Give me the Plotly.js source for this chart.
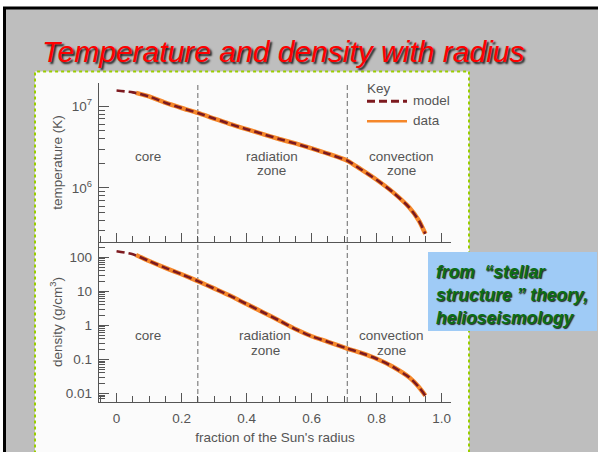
<!DOCTYPE html>
<html>
<head>
<meta charset="utf-8">
<script src="https://cdn.plot.ly/plotly-3.0.1.min.js"></script>
<style>html,body{margin:0;padding:0;background:#fff;}#chart{width:598px;height:452px;}</style>
</head>
<body>
<div id="chart"></div>
<script>
// ---- data ----
const radiusModel = [0, 0.05, 0.1, 0.15, 0.2, 0.25, 0.3, 0.35, 0.4, 0.45, 0.5, 0.55, 0.6, 0.65, 0.71, 0.75, 0.8, 0.85, 0.9, 0.93, 0.95];
const tempModel = [1.56e7, 1.48e7, 1.32e7, 1.107e7, 9.53e6, 8.28e6, 7.08e6, 6.05e6, 5.25e6, 4.57e6, 3.98e6, 3.51e6, 3.05e6, 2.63e6, 2.16e6, 1.71e6, 1.26e6, 8.9e5, 5.8e5, 4.0e5, 2.75e5];
const densityModel = [151, 123, 78, 49, 31.8, 20, 12.2, 7.4, 4.24, 2.44, 1.40, 0.78, 0.48, 0.33, 0.209, 0.158, 0.105, 0.061, 0.030, 0.0155, 0.0087];

const radiusData = [0.06, 0.1, 0.15, 0.2, 0.25, 0.3, 0.35, 0.4, 0.45, 0.5, 0.55, 0.6, 0.65, 0.71, 0.75, 0.8, 0.85, 0.9, 0.93, 0.95];
const tempData = [1.46e7, 1.32e7, 1.107e7, 9.53e6, 8.28e6, 7.08e6, 6.05e6, 5.25e6, 4.57e6, 3.98e6, 3.51e6, 3.05e6, 2.63e6, 2.16e6, 1.71e6, 1.26e6, 8.9e5, 5.8e5, 4.0e5, 2.75e5];
const densityData = [117, 78, 49, 31.8, 20, 12.2, 7.4, 4.24, 2.44, 1.40, 0.78, 0.48, 0.33, 0.209, 0.158, 0.105, 0.061, 0.030, 0.0155, 0.0087];

const zoneBounds = [0.25, 0.71];
const xTickVals = [0, 0.2, 0.4, 0.6, 0.8, 1.0];
const xTickText = ["0", "0.2", "0.4", "0.6", "0.8", "1.0"];
const densityTickVals = [0.01, 0.1, 1, 10, 100];
const densityTickText = ["0.01", "0.1", "1", "10", "100"];
const tempTickVals = [1e6, 1e7];
const tempTickText = ["10<sup>6</sup>", "10<sup>7</sup>"];

const chartTitle = "Temperature and density with radius";
const noteText = "from  “stellar<br>structure ” theory,<br>helioseismology";
const seriesNames = ["model", "data"];
const keyTitle = "Key";

// ---- styling / geometry ----
const W = 598, H = 452;
const px = v => v / W;
const py = v => 1 - v / H;
const TXT = "#555555";
const FONT = "Liberation Sans, Arial, Helvetica, sans-serif";
const MODEL_COLOR = "#7d1a1f";
const DATA_COLOR = "#f5872a";
const MODEL_DASH = "8px,4px";

const traces = [
  {x: radiusData, y: tempData, xaxis: "x2", yaxis: "y2", mode: "lines", name: seriesNames[1],
   line: {color: DATA_COLOR, width: 4.5, shape: "spline", smoothing: 0.6}},
  {x: radiusModel, y: tempModel, xaxis: "x2", yaxis: "y2", mode: "lines", name: seriesNames[0],
   line: {color: MODEL_COLOR, width: 2.6, dash: MODEL_DASH, shape: "spline", smoothing: 0.6}},
  {x: radiusData, y: densityData, xaxis: "x", yaxis: "y", mode: "lines", name: seriesNames[1],
   line: {color: DATA_COLOR, width: 4.5, shape: "spline", smoothing: 0.6}},
  {x: radiusModel, y: densityModel, xaxis: "x", yaxis: "y", mode: "lines", name: seriesNames[0],
   line: {color: MODEL_COLOR, width: 2.6, dash: MODEL_DASH, shape: "spline", smoothing: 0.6}}
];

const xCommon = {
  range: [-0.054, 1.029], showgrid: false, zeroline: false, showline: true,
  linecolor: "#555", linewidth: 1.3, ticks: "inside", ticklen: 9, tickwidth: 1, tickcolor: "#555",
  tickmode: "array", tickvals: xTickVals, ticktext: xTickText, ticklabelstandoff: 3,
  minor: {ticks: "inside", ticklen: 6, tickwidth: 1, tickcolor: "#555", dtick: 0.05, tick0: 0, showgrid: false},
  tickfont: {family: FONT, size: 13.5, color: TXT},
  domain: [px(99), px(451)], fixedrange: true
};

const yCommon = {
  type: "log", showgrid: false, zeroline: false, showline: true,
  linecolor: "#555", linewidth: 1.3, ticks: "inside", ticklen: 10, tickwidth: 1, tickcolor: "#555",
  ticklabelstandoff: 3,
  minor: {ticks: "inside", ticklen: 6, tickwidth: 1, tickcolor: "#555", dtick: "D1", showgrid: false},
  tickfont: {family: FONT, size: 13.5, color: TXT}, fixedrange: true
};

const shapes = [
  // slide background with black frame
  {type: "rect", xref: "paper", yref: "paper", x0: px(4.5), x1: 1.05, y0: -0.05, y1: py(8), layer: "below",
   fillcolor: "#bebebe", line: {color: "#000", width: 3}},
  // white chart panel with dotted green border
  {type: "rect", xref: "paper", yref: "paper", x0: px(35), x1: px(469), y0: -0.05, y1: py(71.5), layer: "below",
   fillcolor: "#fbfbfb", line: {color: "#9acd00", width: 2, dash: "dot"}},
  // blue note box
  {type: "rect", xref: "paper", yref: "paper", x0: px(428), x1: px(597), y0: py(331), y1: py(252), layer: "below",
   fillcolor: "#9fcbf6", line: {width: 0}},
  // key samples
  {type: "line", xref: "paper", yref: "paper", x0: px(367), x1: px(407), y0: py(101.3), y1: py(101.3),
   line: {color: MODEL_COLOR, width: 3, dash: MODEL_DASH}},
  {type: "line", xref: "paper", yref: "paper", x0: px(367), x1: px(407), y0: py(121.3), y1: py(121.3),
   line: {color: DATA_COLOR, width: 2.6}}
];
zoneBounds.forEach(b => {
  shapes.push({type: "line", xref: "x2", yref: "y2 domain", x0: b, x1: b, y0: 0, y1: 1,
    line: {color: "#808080", width: 1.2, dash: "5px,3px"}, layer: "below"});
  shapes.push({type: "line", xref: "x", yref: "y domain", x0: b, x1: b, y0: 0, y1: 1,
    line: {color: "#808080", width: 1.2, dash: "5px,3px"}, layer: "below"});
});

const zoneLabelX = {top: [0.097, 0.478, 0.878], bottom: [0.097, 0.457, 0.845]};
const zoneLines = [["core"], ["radiation", "zone"], ["convection", "zone"]];
const annotations = [];
function addZone(xref, yref, xs, y1, y2) {
  zoneLines.forEach((lines, i) => {
    lines.forEach((t, j) => {
      annotations.push({text: t, xref: xref, yref: yref, x: xs[i], y: j === 0 ? y1 : y2,
        showarrow: false, xanchor: "center", yanchor: "middle",
        font: {family: FONT, size: 13.5, color: TXT}});
    });
  });
}
addZone("x2", "y2 domain", zoneLabelX.top, (242 - 156) / 159, (242 - 170) / 159);
addZone("x", "y domain", zoneLabelX.bottom, (402 - 335) / 160, (402 - 350) / 160);

// key texts
annotations.push({text: keyTitle, xref: "paper", yref: "paper", x: px(365), y: py(88.5), xanchor: "left", yanchor: "middle",
  showarrow: false, font: {family: FONT, size: 13.5, color: TXT}});
annotations.push({text: seriesNames[0], xref: "paper", yref: "paper", x: px(411), y: py(100.5), xanchor: "left", yanchor: "middle",
  showarrow: false, font: {family: FONT, size: 13.5, color: TXT}});
annotations.push({text: seriesNames[1], xref: "paper", yref: "paper", x: px(411), y: py(120.5), xanchor: "left", yanchor: "middle",
  showarrow: false, font: {family: FONT, size: 13.5, color: TXT}});

annotations.push({text: noteText, xref: "paper", yref: "paper", x: px(434), y: py(295),
  xanchor: "left", yanchor: "middle", align: "left", showarrow: false,
  font: {family: FONT, size: 17.5, color: "#0b6e14", style: "italic", weight: "bold", shadow: "1px 1px 1px #2a2a2a"}});

const layout = {
  width: W, height: H, margin: {l: 0, r: 0, t: 0, b: 0, pad: 0},
  paper_bgcolor: "#ffffff", plot_bgcolor: "rgba(0,0,0,0)",
  title: {text: chartTitle, xref: "paper", yref: "paper", x: px(42), xanchor: "left", y: py(51), yanchor: "middle",
    font: {family: FONT, size: 30, color: "#ff0000", style: "italic", shadow: "2px 2px 2px #222"}},
  xaxis: Object.assign({}, xCommon, {anchor: "y", showticklabels: true,
    title: {text: "fraction of the Sun's radius", font: {family: FONT, size: 13.5, color: TXT}, standoff: 8}}),
  xaxis2: Object.assign({}, xCommon, {anchor: "y2", matches: "x", showticklabels: false}),
  yaxis: Object.assign({}, yCommon, {anchor: "x", domain: [50 / H, 210 / H], range: [-2.25, 2.45],
    tickmode: "array", tickvals: densityTickVals, ticktext: densityTickText,
    title: {text: "density (g/cm<sup>3</sup>)", font: {family: FONT, size: 13.5, color: TXT}}}),
  yaxis2: Object.assign({}, yCommon, {anchor: "x2", domain: [210 / H, 369 / H], range: [5.339, 7.285],
    tickmode: "array", tickvals: tempTickVals, ticktext: tempTickText,
    title: {text: "temperature (K)", font: {family: FONT, size: 13.5, color: TXT}}}),
  showlegend: false,
  shapes: shapes,
  annotations: annotations
};

Plotly.newPlot("chart", traces, layout, {displayModeBar: false, staticPlot: true});
</script>
</body>
</html>
